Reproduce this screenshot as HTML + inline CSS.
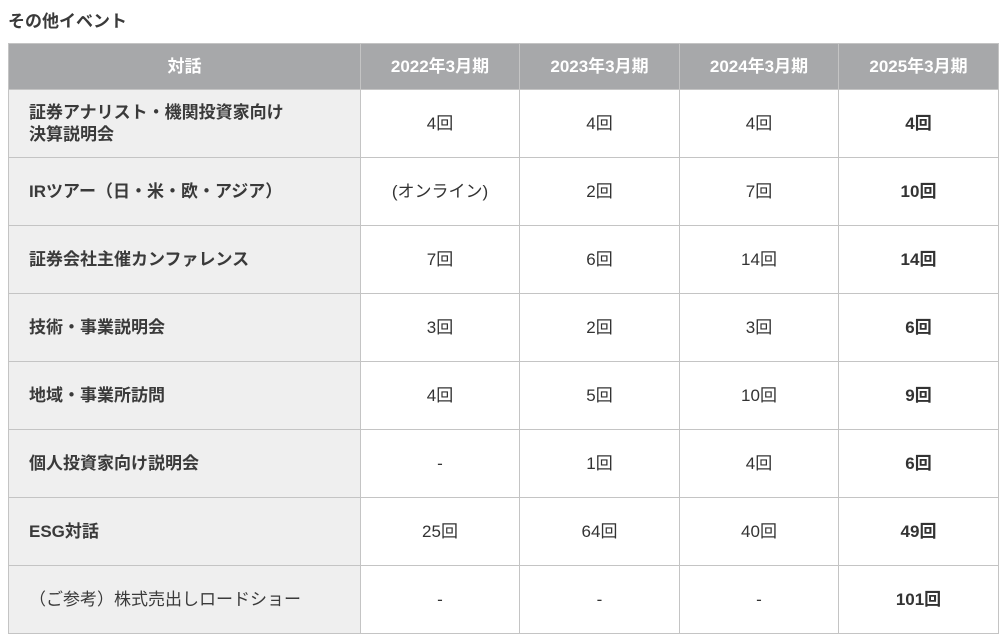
<!DOCTYPE html>
<html><head><meta charset="utf-8"><style>
body{margin:0;background:#fff;width:1006px;height:642px;overflow:hidden;font-family:"Liberation Sans","Noto Sans CJK JP",sans-serif;color:#333;}
.t{position:absolute;left:8px;top:7px;font-size:17px;font-weight:bold;color:#3a3a3a;}
table{position:absolute;left:8px;top:43px;border-collapse:collapse;table-layout:fixed;}
td,th{border:1px solid #c4c4c4;font-size:17px;text-align:center;padding:0;vertical-align:middle;line-height:22px;}
th{background:#a7a8aa;color:#fff;height:45px;font-weight:bold;}
td{height:67px;}
td.f{background:#efefef;text-align:left;padding-left:20px;font-weight:bold;color:#3a3a3a;}
td.b{font-weight:bold;}
</style></head><body>
<div class="t">その他イベント</div>
<table>
<colgroup><col style="width:352px"><col style="width:159px"><col style="width:160px"><col style="width:159px"><col style="width:160px"></colgroup>
<tr><th>対話</th><th>2022年3月期</th><th>2023年3月期</th><th>2024年3月期</th><th>2025年3月期</th></tr>
<tr><td class="f">証券アナリスト・機関投資家向け<br>決算説明会</td><td>4回</td><td>4回</td><td>4回</td><td class="b">4回</td></tr>
<tr><td class="f">IRツアー（日・米・欧・アジア）</td><td>(オンライン)</td><td>2回</td><td>7回</td><td class="b">10回</td></tr>
<tr><td class="f">証券会社主催カンファレンス</td><td>7回</td><td>6回</td><td>14回</td><td class="b">14回</td></tr>
<tr><td class="f">技術・事業説明会</td><td>3回</td><td>2回</td><td>3回</td><td class="b">6回</td></tr>
<tr><td class="f">地域・事業所訪問</td><td>4回</td><td>5回</td><td>10回</td><td class="b">9回</td></tr>
<tr><td class="f">個人投資家向け説明会</td><td>-</td><td>1回</td><td>4回</td><td class="b">6回</td></tr>
<tr><td class="f">ESG対話</td><td>25回</td><td>64回</td><td>40回</td><td class="b">49回</td></tr>
<tr><td class="f" style="font-weight:normal">（ご参考）株式売出しロードショー</td><td>-</td><td>-</td><td>-</td><td class="b">101回</td></tr>
</table>
</body></html>
